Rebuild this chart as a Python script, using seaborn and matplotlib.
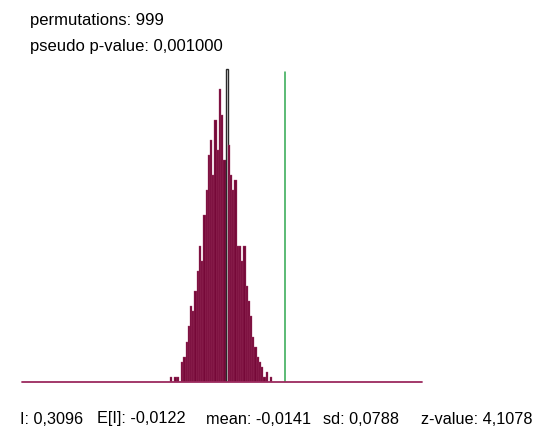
import numpy as np
import pandas as pd
import matplotlib
matplotlib.use("Agg")
import matplotlib.pyplot as plt
import seaborn as sns

# permutation results
moran_i = 0.3096
bin_left = -0.291
bin_width = 0.0116
counts = [1, 0, 1, 1, 0, 4, 5, 8, 11, 15, 14, 18, 22, 27, 24, 33, 38, 45, 48, 41,
          52, 46, 58, 53, 44, 62, 47, 41, 38, 40, 27, 27, 24, 27, 19, 16, 13, 9,
          7, 5, 4, 3, 1, 2, 0, 1]
highlight_bin = 25

top_lines = ["permutations: 999", "pseudo p-value: 0,001000"]
stat_labels = ["I: 0,3096", "E[I]: -0,0122", "mean: -0,0141", "sd: 0,0788", "z-value: 4,1078"]

edges = bin_left + bin_width * np.arange(len(counts) + 1)
df = pd.DataFrame({"I": (edges[:-1] + edges[1:]) / 2, "n": counts})

sns.set_style("white")
plt.rcParams["font.family"] = ["Liberation Sans", "DejaVu Sans"]

fig = plt.figure(figsize=(5.57, 4.47), dpi=100)
ax = fig.add_axes([22 / 557, 65 / 447, 400 / 557, 322 / 447])

sns.histplot(data=df, x="I", weights="n", bins=list(edges), ax=ax, stat="count",
             color="#760838", alpha=1, edgecolor="#a8426e", linewidth=0.25)

# highlighted bin drawn with a dark frame
bar = ax.patches[highlight_bin]
bar.set_facecolor("white")
bar.set_edgecolor("#2a2a2a")
bar.set_linewidth(1.0)

ax.axvline(moran_i, ymin=0, ymax=0.963, color="#2fa84f", linewidth=1.1)
ax.axhline(0, color="#9b2a5e", linewidth=1.3, clip_on=False, zorder=5)

ax.set_xlim(-1.064, 1.025)
ax.set_ylim(0, 63.8)
ax.set_xlabel("")
ax.set_ylabel("")
ax.set_xticks([])
ax.set_yticks([])
sns.despine(ax=ax, left=True, bottom=True)

fig.text(30 / 557, 1 - 20 / 447, top_lines[0], fontsize=12, va="center", color="black")
fig.text(30 / 557, 1 - 46 / 447, top_lines[1], fontsize=12, va="center", color="black")

stat_x = [20, 97, 206, 323, 421]
for xp, lab in zip(stat_x, stat_labels):
    fig.text(xp / 557, 1 - 419 / 447, lab, fontsize=11.7, va="center", color="black")

fig.savefig("out.png", dpi=100)
